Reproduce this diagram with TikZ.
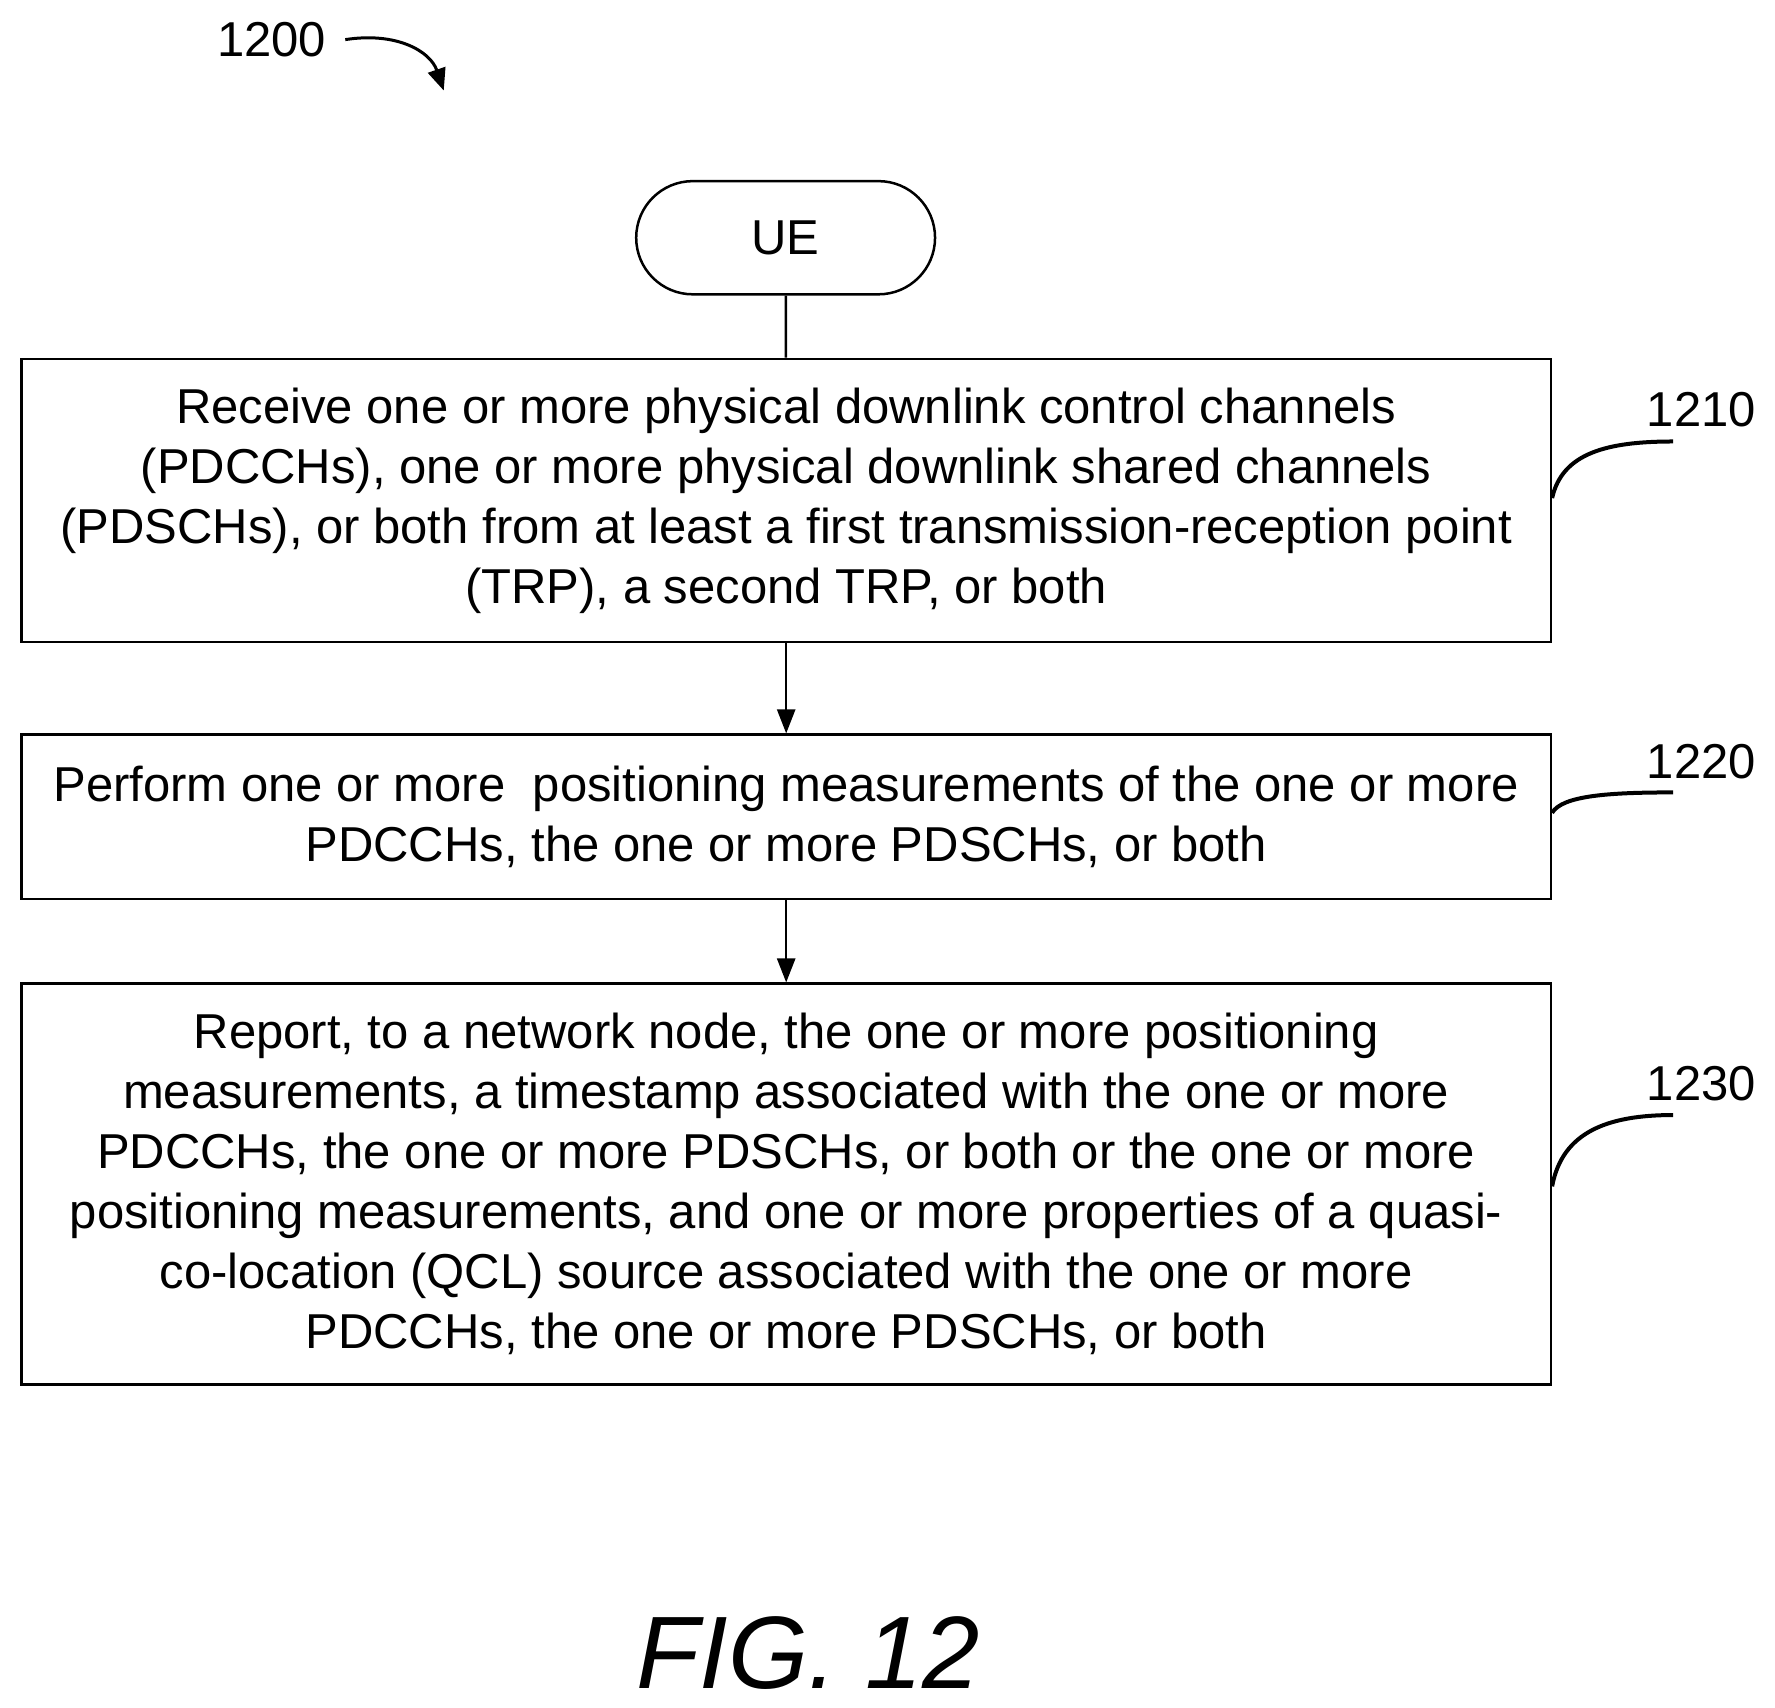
\documentclass[tikz,border=0pt]{standalone}
\usepackage{fontspec}
\setmainfont{Liberation Sans}
\usetikzlibrary{arrows.meta,shapes.misc}
\begin{document}
\begin{tikzpicture}[x=1.132pt,y=-1.132pt,
  txt/.style={font=\fontsize{49}{60}\selectfont,align=center,inner sep=0pt},
  box/.style={draw,line width=2.5pt,minimum width=1351*1.132pt},
  arr/.style={line width=2.5pt,-{Triangle[length=24pt,width=18pt]}},
  lead/.style={line width=4pt}]
\useasboundingbox (0,0) rectangle (1568,1508);
\node[txt] (n1200) at (240,35) {1200};
\coordinate (a1) at (305,35);
\coordinate (a2) at (392,80);
\draw[line width=3pt,-{Triangle[length=22pt,width=18pt]}] (a1) .. controls (350,28) and (380,45) .. (a2);
\node[draw,line width=2.5pt,rounded rectangle,minimum width=264*1.132pt,minimum height=100*1.132pt,txt] (ue) at (694,210) {UE};
\node[box,minimum height=250*1.132pt,txt] (b1) at (694.5,442) {Receive one or more physical downlink control channels\\(PDCCHs), one or more physical downlink shared channels\\(PDSCHs), or both from at least a first transmission-reception point\\(TRP), a second TRP, or both};
\node[box,minimum height=145*1.132pt,txt] (b2) at (694.5,721.5) {Perform one or more\ \ positioning measurements of the one or more\\PDCCHs, the one or more PDSCHs, or both};
\node[box,minimum height=354*1.132pt,txt] (b3) at (694.5,1046) {Report, to a network node, the one or more positioning\\measurements, a timestamp associated with the one or more\\PDCCHs, the one or more PDSCHs, or both or the one or more\\positioning measurements, and one or more properties of a quasi-\\co-location (QCL) source associated with the one or more\\PDCCHs, the one or more PDSCHs, or both};
\draw[line width=2.5pt] (ue) -- (b1);
\draw[arr] (b1) -- (b2);
\draw[arr] (b2) -- (b3);
\node[txt] (l1) at (1503,362) {1210};
\node[txt] (l2) at (1503,673) {1220};
\node[txt] (l3) at (1503,957) {1230};
\coordinate (c1) at (1478,390);
\coordinate (c2) at (1478,700);
\coordinate (c3) at (1478,985);
\draw[lead] (b1.east |- 0,440) .. controls (1380,400) and (1420,390) .. (c1);
\draw[lead] (b2.east |- 0,718) .. controls (1380,703) and (1420,700) .. (c2);
\draw[lead] (b3.east |- 0,1048) .. controls (1380,1000) and (1420,985) .. (c3);
\node[txt,font=\fontsize{103}{110}\selectfont\itshape] (fig) at (714,1460) {FIG. 12};
\end{tikzpicture}
\end{document}
